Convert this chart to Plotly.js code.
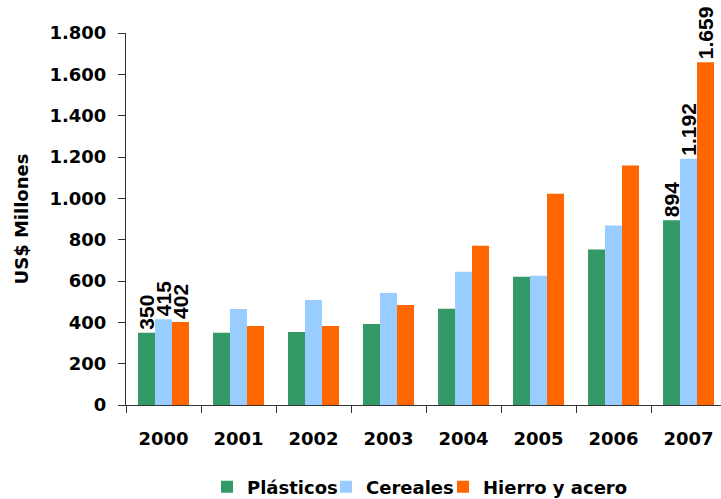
<!DOCTYPE html>
<html>
<head>
<meta charset="utf-8">
<script src="https://cdn.plot.ly/plotly-3.0.1.min.js"></script>
<style>html,body{margin:0;padding:0;background:#fff}#chart{width:721px;height:499px}</style>
</head>
<body>
<div id="chart"></div>
<script>
var years = ['2000','2001','2002','2003','2004','2005','2006','2007'];
var plasticos = [350, 350, 353, 392, 466, 621, 752, 894];
var cereales  = [415, 465, 508, 542, 645, 626, 868, 1192];
var hierro    = [402, 382, 382, 484, 771, 1022, 1159, 1659];
var plasticosLabels = ['350','','','','','','','894'];
var cerealesLabels  = ['415','','','','','','','1.192'];
var hierroLabels    = ['402','','','','','','','1.659'];
var yTicks = [0,200,400,600,800,1000,1200,1400,1600,1800];
var yTickText = ['0','200','400','600','800','1.000','1.200','1.400','1.600','1.800'];

var hfont = {family:'DejaVu Sans', size:18, color:'#000', weight:'bold'};
var lfont = {family:'Liberation Sans, Arial', size:21, color:'#000', weight:700};

function mk(name, y, txt, color, leg){
  return {type:'bar', name:name, x:years, y:y, text:txt, texttemplate:'<b>%{text}</b>',
    textposition:'outside', textangle:-90, constraintext:'none', cliponaxis:false,
    textfont:lfont, outsidetextfont:lfont, legend:leg,
    marker:{color:color, line:{width:0}}, hoverinfo:'skip'};
}
var data = [
  mk('Plásticos', plasticos, plasticosLabels, '#339966', 'legend'),
  mk('Cereales', cereales, cerealesLabels, '#99CCFF', 'legend2'),
  mk('Hierro y acero', hierro, hierroLabels, '#FF6600', 'legend3')
];
function leg(xpx){
  return {orientation:'h', xref:'container', yref:'container', x:xpx/721, xanchor:'left',
    y:12/499, yanchor:'middle', font:hfont, itemwidth:30, bgcolor:'rgba(0,0,0,0)', borderwidth:0};
}
var layout = {
  width:721, height:499,
  margin:{l:126, r:0, t:33, b:94},
  paper_bgcolor:'#fff', plot_bgcolor:'#fff',
  barmode:'group', bargap:0.32, bargroupgap:0,
  showlegend:true,
  legend:leg(207), legend2:leg(326), legend3:leg(443),
  xaxis:{type:'category', range:[-0.5, 7.433], showline:true, linecolor:'#333', linewidth:1,
    ticks:'outside', ticklen:7, tickcolor:'#333', tickson:'boundaries',
    tickfont:hfont, ticklabelstandoff:17, showgrid:false, zeroline:false, fixedrange:true},
  yaxis:{range:[0,1800], tickvals:yTicks, ticktext:yTickText, showline:true, linecolor:'#333', linewidth:1,
    ticks:'outside', ticklen:7, tickcolor:'#333', tickfont:hfont, ticklabelstandoff:8,
    showgrid:false, zeroline:false, fixedrange:true,
    title:{text:'US$ Millones', font:hfont, standoff:16}},
  font:hfont
};
Plotly.newPlot('chart', data, layout, {displayModeBar:false, staticPlot:true});
</script>
</body>
</html>
